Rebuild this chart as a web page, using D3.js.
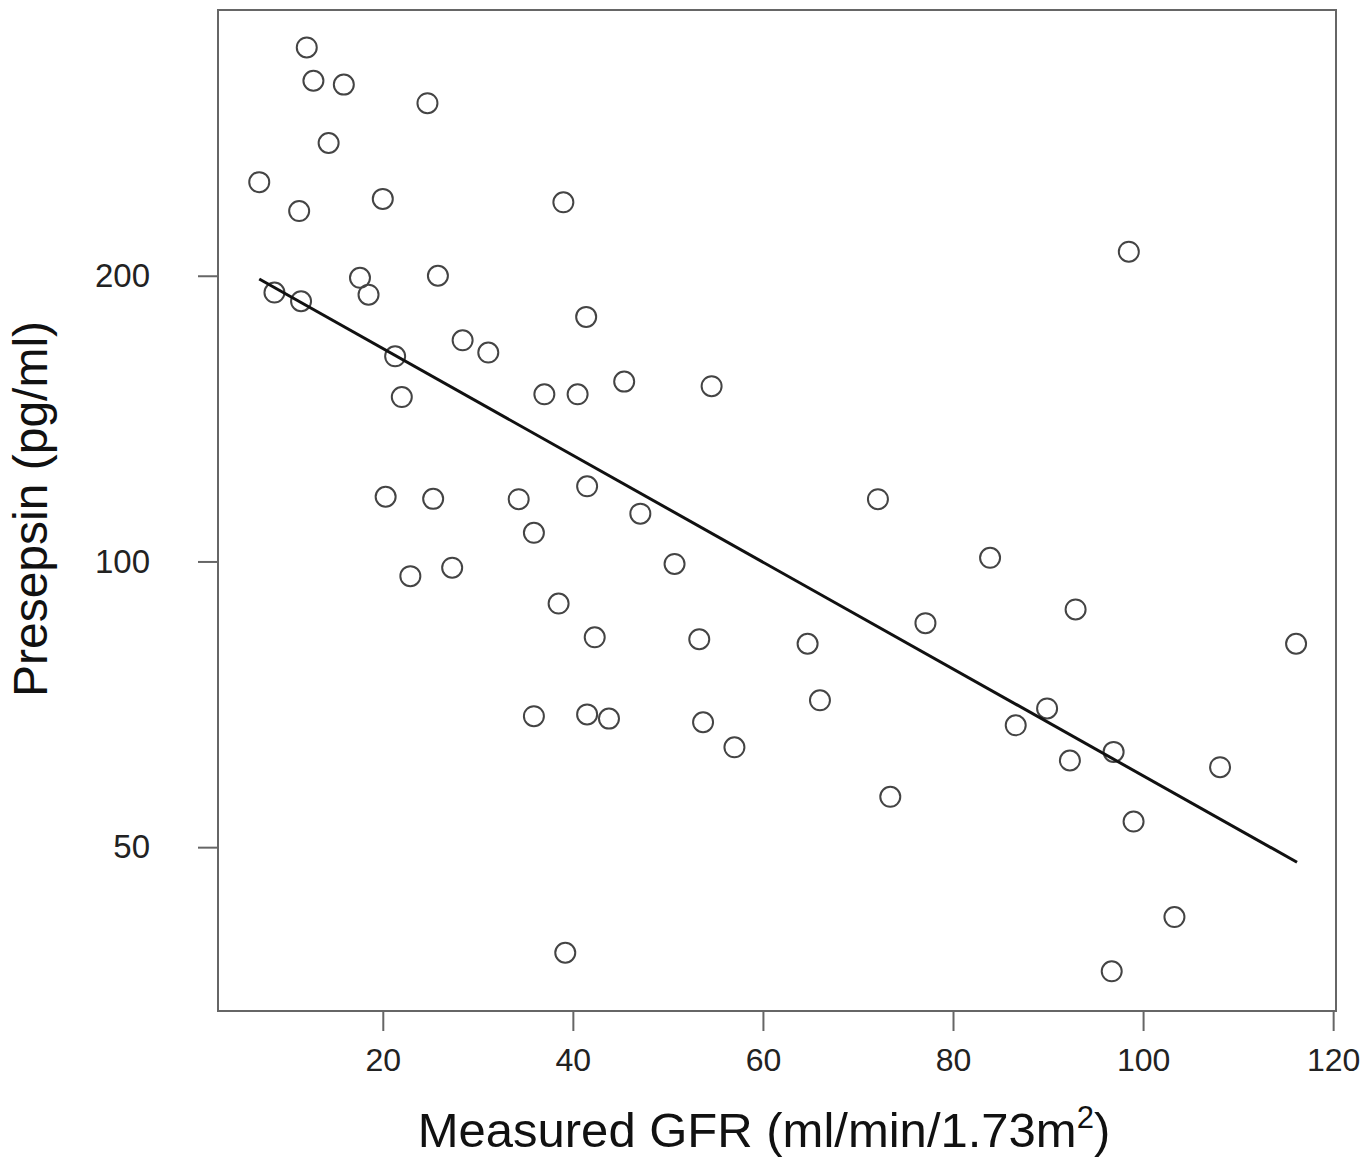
<!DOCTYPE html>
<html>
<head>
<meta charset="utf-8">
<script src="https://cdn.jsdelivr.net/npm/d3@7"></script>
<style>
  body { margin: 0; background: #fff; }
  text { font-family: "Liberation Sans", Arial, sans-serif; }
</style>
</head>
<body>
<div id="chart"></div>
<script>
// measured GFR (x) and presepsin (y)
let gfr = [
  12.0, 12.7, 15.9, 24.7, 14.3, 7.0, 11.2, 20.0, 39.0, 98.5,
  17.6, 8.6, 25.8, 18.5, 11.4, 41.4, 28.4, 31.1, 21.3, 22.0,
  37.0, 40.5, 45.4, 54.6, 20.3, 25.3, 34.3, 41.5, 72.1, 47.1,
  35.9, 22.9, 27.3, 50.7, 83.9, 38.5, 92.9, 42.3, 53.3, 64.7,
  77.1, 116.1, 66.0, 35.9, 41.5, 43.8, 53.7, 89.9, 86.6, 57.0,
  96.9, 92.3, 108.1, 73.4, 99.0, 103.3, 39.2, 96.7
];
let presepsin = [
  348, 321, 318, 304, 276, 251, 234, 241, 239, 212,
  199, 192, 200, 191, 188, 181, 171, 166, 164.5, 149,
  150, 150, 154.7, 153, 117, 116.4, 116.3, 120, 116.3, 112.3,
  107.2, 96.5, 98.5, 99.4, 100.9, 90.3, 89, 83.2, 82.8, 81.9,
  86.1, 81.9, 71.4, 68.7, 69, 68.3, 67.7, 70, 67.2, 63.7,
  63, 61.7, 60.7, 56.5, 53.2, 42.2, 38.7, 37
];
// fitted line end points
let fitX = [7.0, 116.2];
let fitY = [198.4, 48.2];

let xTicks = [20, 40, 60, 80, 100, 120];
let yTicks = [50, 100, 200];

let margin = { left: 218, right: 36, top: 10, bottom: 147 };
let chart_width = 1372 - margin.left - margin.right;
let chart_height = 1158 - margin.top - margin.bottom;

let svg = d3.select("#chart")
  .append("svg")
  .attr("width", 1372)
  .attr("height", 1158);

let g = svg.append("g")
  .attr("transform", `translate(${margin.left},${margin.top})`);

let x_scale = d3.scaleLinear().domain([2.66, 120.3]).range([0, chart_width]);
let y_scale = d3.scaleLog().domain([33.6, 381.1]).range([chart_height, 0]);

let axisColor = "#666";

// x axis
let xAxis = d3.axisBottom(x_scale).tickValues(xTicks).tickSize(20).tickPadding(17)
  .tickFormat(d3.format("d"));
let xg = g.append("g")
  .attr("transform", `translate(0,${chart_height})`)
  .call(xAxis);
xg.select(".domain").remove();
xg.selectAll("line").attr("stroke", axisColor).attr("stroke-width", 2);
xg.selectAll("text").attr("font-size", "32px").attr("fill", "#222")
  .style("font-family", "'Liberation Sans', Arial, sans-serif");

// y axis
let yAxis = d3.axisLeft(y_scale).tickValues(yTicks).tickSize(20).tickPadding(48)
  .tickFormat(d3.format("d"));
let yg = g.append("g").call(yAxis);
yg.select(".domain").remove();
yg.selectAll("line").attr("stroke", axisColor).attr("stroke-width", 2);
yg.selectAll("text").attr("font-size", "33px").attr("fill", "#222")
  .style("font-family", "'Liberation Sans', Arial, sans-serif");

// box round the plot
g.append("rect")
  .attr("x", 0).attr("y", 0)
  .attr("width", chart_width).attr("height", chart_height)
  .attr("fill", "none")
  .attr("stroke", axisColor)
  .attr("stroke-width", 2);

// points
let points = gfr.map((d, i) => ({ x: d, y: presepsin[i] }));
g.append("g")
  .selectAll("circle")
  .data(points)
  .enter()
  .append("circle")
  .attr("cx", d => x_scale(d.x))
  .attr("cy", d => y_scale(d.y))
  .attr("r", 10)
  .attr("fill", "none")
  .attr("stroke", "#444")
  .attr("stroke-width", 2);

// regression line
let fit = fitX.map((d, i) => ({ x: d, y: fitY[i] }));
g.append("path")
  .datum(fit)
  .attr("fill", "none")
  .attr("stroke", "#111")
  .attr("stroke-width", 3)
  .attr("d", d3.line().x(d => x_scale(d.x)).y(d => y_scale(d.y)));

// axis labels
let xl = svg.append("text")
  .attr("x", 764)
  .attr("y", 1147)
  .attr("text-anchor", "middle")
  .attr("font-size", "49px")
  .attr("fill", "#111");
xl.append("tspan").text("Measured GFR (ml/min/1.73m");
xl.append("tspan").attr("font-size", "31px").attr("dy", "-19").text("2");
xl.append("tspan").attr("dy", "19").text(")");

svg.append("text")
  .attr("transform", "translate(47,509) rotate(-90)")
  .attr("text-anchor", "middle")
  .attr("font-size", "48px")
  .attr("fill", "#111")
  .text("Presepsin (pg/ml)");
</script>
</body>
</html>
